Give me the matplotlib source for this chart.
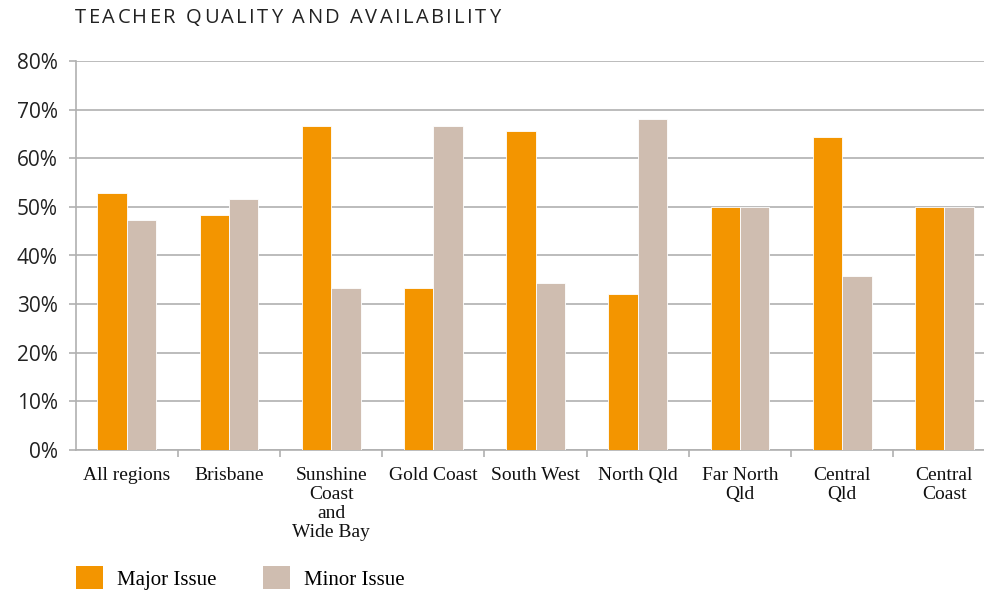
import matplotlib.pyplot as plt
import numpy as np
from matplotlib.patches import Patch

regions = ['All regions', 'Brisbane', 'Sunshine\nCoast\nand\nWide Bay', 'Gold Coast',
           'South West', 'North Qld', 'Far North\nQld', 'Central\nQld', 'Central\nCoast']
major = [52.8, 48.3, 66.7, 33.3, 65.6, 32.0, 50.0, 64.3, 50.0]
minor = [47.2, 51.7, 33.3, 66.7, 34.4, 68.0, 50.0, 35.7, 50.0]
yticks = [0, 10, 20, 30, 40, 50, 60, 70, 80]
title = 'TEACHER QUALITY AND AVAILABILITY'

orange = '#F39500'
tan = '#CFBDB0'
grid = '#B0B0B0'

fig = plt.figure(figsize=(9.84, 5.91), dpi=100)
# axes run off the right edge, like the original
ax = fig.add_axes([75.7 / 984, 141 / 591, 919.8 / 984, 389 / 591])

ind = np.arange(len(regions))
w = 0.287
ax.bar(ind - w / 2, major, w, color=orange, edgecolor='white', linewidth=0.6, zorder=3)
ax.bar(ind + w / 2, minor, w, color=tan, edgecolor='white', linewidth=0.6, zorder=3)

ax.set_xlim(-0.5, len(regions) - 0.5)
ax.set_ylim(0, 80)
ax.set_yticks(yticks)
ax.set_yticklabels([str(v) + '%' for v in yticks], fontsize=15, family='Open Sans', color='#222222')
ax.yaxis.grid(True, color=grid, linewidth=1.2, zorder=0)

ax.set_xticks(ind)
ax.set_xticklabels(regions, fontsize=14, family='Liberation Serif', color='#111111',
                   linespacing=1.17)
ax.set_xticks(np.arange(len(regions)) + 0.5, minor=True)
ax.tick_params(axis='x', which='major', length=0, pad=12)
ax.tick_params(axis='x', which='minor', length=5, color=grid, width=1.2)
ax.tick_params(axis='y', length=5, color=grid, width=1.2, pad=8)

for s in ['top', 'right']:
    ax.spines[s].set_visible(False)
for s in ['left', 'bottom']:
    ax.spines[s].set_color(grid)
    ax.spines[s].set_linewidth(1.2)

# title with letter spacing: place char by char
renderer = fig.canvas.get_renderer()
x = 75.0
ty = 591 - 18
for ch in title:
    t = fig.text(x / 984, ty / 591, ch, fontsize=14.5, family='Open Sans',
                 color='#222222', va='center', ha='left')
    if ch == ' ':
        cw = 5.5
    else:
        cw = t.get_window_extent(renderer).width
    x += cw + 2.4

handles = [Patch(facecolor=orange, edgecolor='none'), Patch(facecolor=tan, edgecolor='none')]
fig.legend(handles, ['Major Issue', 'Minor Issue'], loc='center left',
           bbox_to_anchor=(57 / 984, 1 - 578 / 591), ncol=2, frameon=False,
           prop={'family': 'Liberation Serif', 'size': 15},
           handlelength=1.3, handleheight=1.3, handletextpad=0.7, columnspacing=2.2)

fig.savefig('out.png', dpi=100)
